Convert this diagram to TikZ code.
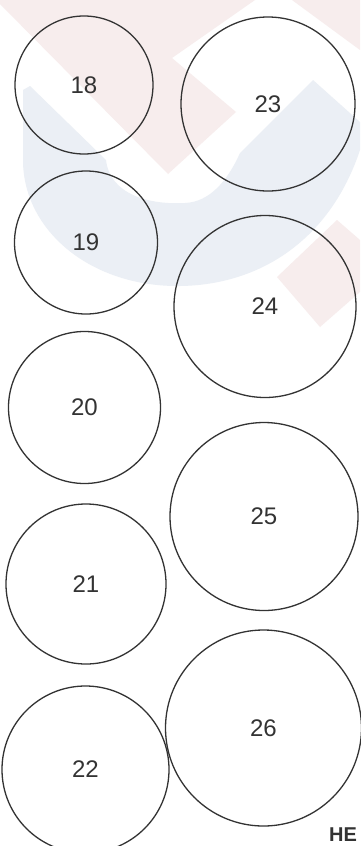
\documentclass[tikz,border=0pt]{standalone}
\usepackage{fontspec}
\setmainfont{Liberation Sans}
\definecolor{ink}{HTML}{333333}
\definecolor{wmpink}{HTML}{F7EDED}
\definecolor{wmblue}{HTML}{EBEFF5}
\tikzset{
  ring/.style={circle, draw=ink, line width=1.3pt, inner sep=0pt, text=ink,
    font=\fontsize{24}{24}\selectfont},
  mark pink/.style={fill=wmpink, draw=none},
  mark blue/.style={fill=wmblue, draw=none}
}
\begin{document}
\begin{tikzpicture}[x=1pt,y=-1pt]
\useasboundingbox[fill=white] (0,0) rectangle (360,846);
% faint watermark
\fill[mark pink] (0,0) -- (255,0) -- (172,58) -- (236,112) -- (168,174) -- (0,4) -- cycle;
\fill[mark pink] (292,0) -- (360,0) -- (360,50) -- cycle;
\fill[mark pink] (277,277) -- (337,220) -- (360,240) -- (360,292) -- (320,327) -- cycle;
\fill[mark blue] (23,90) -- (30,86) -- (106,160)
  .. controls (110,195) and (150,205) .. (185,203)
  .. controls (210,202) and (228,180) .. (240,153)
  -- (313,80) -- (360,122) -- (360,150)
  .. controls (330,240) and (260,285) .. (180,286)
  .. controls (90,287) and (23,230) .. (23,160) -- cycle;
% circles
\node[ring, minimum size=138pt] (c18) at (84,85) {18};
\node[ring, minimum size=143pt] (c19) at (86,242.5) {19};
\node[ring, minimum size=152pt] (c20) at (84.5,407.5) {20};
\node[ring, minimum size=160pt] (c21) at (86,584) {21};
\node[ring, minimum size=167pt] (c22) at (85.5,769.5) {22};
\node[ring, minimum size=174pt] (c23) at (268,104) {23};
\node[ring, minimum size=182pt] (c24) at (265,306.5) {24};
\node[ring, minimum size=188pt] (c25) at (264,516.5) {25};
\node[ring, minimum size=196pt] (c26) at (263.5,728) {26};
% cut-off caption
\node[anchor=base west, inner sep=0pt, text=ink, font=\bfseries\fontsize{20}{20}\selectfont] (cap) at (329,841) {HE};
\end{tikzpicture}
\end{document}
